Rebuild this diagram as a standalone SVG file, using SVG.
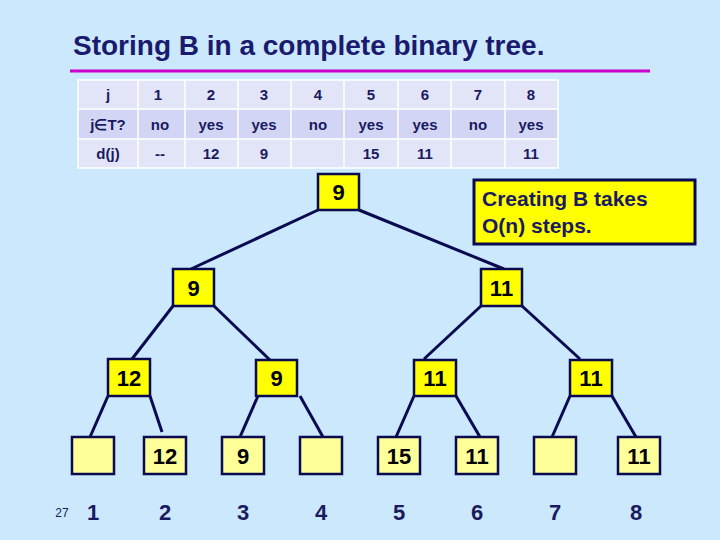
<svg xmlns="http://www.w3.org/2000/svg" width="720" height="540" viewBox="0 0 720 540">
<style>
text{font-family:"Liberation Sans",Arial,sans-serif}
.n rect{fill:#ffff00;stroke:#0a0a50;stroke-width:2.5}
.l rect{fill:#ffff99;stroke:#0a0a50;stroke-width:2.5}
.n text,.l text{font-size:22px;font-weight:bold;fill:#000;text-anchor:middle}
.e line{stroke:#0a0a50;stroke-width:3}
.t{font-size:15px;fill:#1a1a60;text-anchor:middle;font-weight:bold}
.b{font-size:22px;font-weight:bold;fill:#1a1a60;text-anchor:middle}
</style>
<rect width="720" height="540" fill="#cce8fc"/>
<text x="73" y="55" font-size="28" font-weight="bold" fill="#1a1a6e">Storing B in a complete binary tree.</text>
<line x1="70" y1="71" x2="650" y2="71" stroke="#cc00cc" stroke-width="3"/>
<g id="table">
<rect x="78" y="80" width="480" height="29" fill="#e2e4f8"/>
<rect x="78" y="109" width="480" height="30" fill="#d2d6f4"/>
<rect x="78" y="139" width="480" height="29" fill="#e2e4f8"/>
<g stroke="#ffffff" stroke-width="1.5" fill="none">
<rect x="78" y="80" width="480" height="88"/>
<line x1="78" y1="109" x2="558" y2="109"/><line x1="78" y1="139" x2="558" y2="139"/>
<line x1="138" y1="80" x2="138" y2="168"/><line x1="185" y1="80" x2="185" y2="168"/><line x1="238" y1="80" x2="238" y2="168"/><line x1="291" y1="80" x2="291" y2="168"/><line x1="344" y1="80" x2="344" y2="168"/><line x1="398" y1="80" x2="398" y2="168"/><line x1="451" y1="80" x2="451" y2="168"/><line x1="505" y1="80" x2="505" y2="168"/>
</g>
<g class="t">
<text x="108" y="100">j</text><text x="158" y="100">1</text><text x="211" y="100">2</text><text x="264" y="100">3</text><text x="318" y="100">4</text><text x="371" y="100">5</text><text x="425" y="100">6</text><text x="478" y="100">7</text><text x="531" y="100">8</text>
<text x="108" y="130">j∈T?</text><text x="160" y="130">no</text><text x="211" y="130">yes</text><text x="264" y="130">yes</text><text x="318" y="130">no</text><text x="371" y="130">yes</text><text x="425" y="130">yes</text><text x="478" y="130">no</text><text x="531" y="130">yes</text>
<text x="108" y="159">d(j)</text><text x="160" y="159">--</text><text x="211" y="159">12</text><text x="264" y="159">9</text><text x="371" y="159">15</text><text x="425" y="159">11</text><text x="531" y="159">11</text>
</g>
</g>
<g id="connectors" class="e">
<line x1="318" y1="210" x2="191" y2="269"/><line x1="359" y1="210" x2="504" y2="269"/>
<line x1="173" y1="306" x2="132" y2="359"/><line x1="214" y1="306" x2="270" y2="360"/>
<line x1="481" y1="306" x2="424" y2="359"/><line x1="522" y1="306" x2="580" y2="359"/>
<line x1="108" y1="396" x2="90" y2="437"/><line x1="150" y1="396" x2="162" y2="432"/>
<line x1="258" y1="396" x2="240" y2="437"/><line x1="300" y1="396" x2="323" y2="437"/>
<line x1="414" y1="396" x2="396" y2="437"/><line x1="456" y1="396" x2="480" y2="437"/>
<line x1="570" y1="396" x2="552" y2="437"/><line x1="612" y1="396" x2="636" y2="437"/>
</g>
<g id="n1" class="n"><rect x="318" y="174" width="41" height="36"/><text x="338.5" y="200">9</text></g>
<g id="n2" class="n"><rect x="173" y="269" width="41" height="37"/><text x="193.5" y="296">9</text></g>
<g id="n3" class="n"><rect x="481" y="269" width="41" height="37"/><text x="501.5" y="296">11</text></g>
<g id="n4" class="n"><rect x="108" y="359" width="42" height="37"/><text x="129" y="386">12</text></g>
<g id="n5" class="n"><rect x="256" y="360" width="41" height="36"/><text x="276.5" y="386">9</text></g>
<g id="n6" class="n"><rect x="414" y="360" width="42" height="36"/><text x="435" y="386">11</text></g>
<g id="n7" class="n"><rect x="570" y="360" width="42" height="36"/><text x="591" y="386">11</text></g>
<g id="l1" class="l"><rect x="72" y="437" width="42" height="37"/></g>
<g id="l2" class="l"><rect x="144" y="437" width="42" height="37"/><text x="165" y="464">12</text></g>
<g id="l3" class="l"><rect x="222" y="437" width="42" height="37"/><text x="243" y="464">9</text></g>
<g id="l4" class="l"><rect x="300" y="437" width="42" height="37"/></g>
<g id="l5" class="l"><rect x="378" y="437" width="42" height="37"/><text x="399" y="464">15</text></g>
<g id="l6" class="l"><rect x="456" y="437" width="42" height="37"/><text x="477" y="464">11</text></g>
<g id="l7" class="l"><rect x="534" y="437" width="42" height="37"/></g>
<g id="l8" class="l"><rect x="618" y="437" width="42" height="37"/><text x="639" y="464">11</text></g>
<g id="idx" class="b">
<text x="93" y="520">1</text><text x="165" y="520">2</text><text x="243" y="520">3</text><text x="321" y="520">4</text><text x="399" y="520">5</text><text x="477" y="520">6</text><text x="555" y="520">7</text><text x="636" y="520">8</text>
</g>
<text x="62" y="517" font-size="12" fill="#1a1a60" text-anchor="middle">27</text>
<g id="callout">
<rect x="474" y="180" width="221" height="64" fill="#ffff00" stroke="#0a0a50" stroke-width="3"/>
<text x="482" y="206" font-size="21" font-weight="bold" fill="#1a1a60">Creating B takes</text>
<text x="482" y="233" font-size="21" font-weight="bold" fill="#1a1a60">O(n) steps.</text>
</g>
</svg>
